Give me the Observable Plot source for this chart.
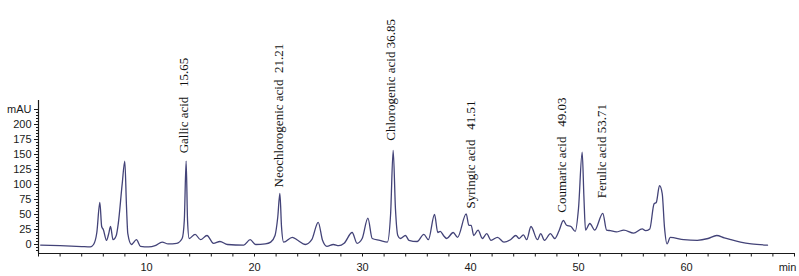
<!DOCTYPE html>
<html><head><meta charset="utf-8">
<script src="https://cdn.jsdelivr.net/npm/d3@7"></script>
<script src="https://cdn.jsdelivr.net/npm/@observablehq/plot@0.6"></script>
<style>body{margin:0;background:#fff;} #chart svg{display:block}</style>
</head><body><div id="chart"></div>
<script>
// Retention time (min) and absorbance (mAU)
const time = [0.2, 2, 4, 4.8, 5.1, 5.4, 5.68, 5.85, 6.0, 6.3, 6.5, 6.67, 6.9, 7.2, 7.38, 7.75, 7.99, 8.15, 8.27, 8.6,
  9.07, 9.44, 10.2, 10.8, 11.45, 12.0, 12.8, 13.3, 13.5, 13.67, 13.8, 13.95, 14.5, 15.0, 15.6, 16.2, 16.8, 17.5, 19.0, 19.6,
  20.1, 21.0, 21.5, 21.9, 22.15, 22.35, 22.5, 22.7, 23.5, 24.0, 24.7, 25.3, 25.9, 26.3, 26.7, 27.3, 27.8, 28.3, 29.04, 29.5,
  29.97, 30.5, 30.9, 31.6, 32.3, 32.6, 32.84, 33.05, 33.27, 33.5, 33.98, 34.3, 35.06, 35.68, 36.1, 36.67, 36.97, 37.2, 37.5, 37.8,
  38.4, 38.8, 39.6, 39.85, 40.06, 40.3, 40.7, 41.1, 41.5, 41.9, 42.5, 43.1, 43.7, 44.2, 44.5, 44.9, 45.2, 45.6, 46.2, 46.5,
  46.85, 47.4, 47.8, 48.2, 48.6, 48.9, 49.3, 49.7, 50.0, 50.34, 50.5, 50.65, 51.05, 51.5, 52.25, 52.6, 52.96, 53.5, 54.2, 55.1,
  55.9, 56.2, 56.6, 57.0, 57.2, 57.5, 57.75, 57.96, 58.2, 58.5, 59.75, 61.0, 62.0, 62.8, 63.5, 64.1, 65.0, 66.0, 67.5];
const mAU = [-1, -2, -3.5, -4, 0, 20, 70, 30, 25, 7, 18, 30, 8, 15, 34, 101, 139, 62, 18, 0,
  8, -3, -4, -2, 4, 1, 2, 10, 40, 139, 40, 10, 17, 8, 15, 2, 5, 0, -1, 8,
  0, 1, 4, 15, 45, 85, 30, 4, 12, 7, 0, 8, 37, 7, -3, 0, -2, 2, 20, 2,
  10, 44, 10, 7, 4, 50, 157, 60, 15, 10, 15, 7, 5, 17, 8, 50, 20, 22, 15, 10,
  20, 12, 51, 32, 32, 15, 24, 10, 18, 7, 12, 4, 8, 15, 10, 16, 8, 30, 8, 18,
  7, 18, 10, 23, 40, 32, 30, 22, 60, 154, 80, 24, 35, 24, 52, 24, 23, 21, 24, 19,
  26, 23, 26, 68, 70, 98, 85, 29, 1, 12, 8, 7, 10, 15, 11, 8, 4, 1, -1];

// Peak annotations
const compounds = ["Gallic acid", "Neochlorogenic acid", "Chlorogenic acid", "Syringic acid", "Coumaric acid", "Ferulic acid"];
const retention = ["15.65", "21.21", "36.85", "41.51", "49.03", "53.71"];
const gaps = [3, 2, 1, 3, 3, 1];
const labelTime = [13.43, 22.22, 32.59, 40.0, 48.49, 52.19];
const labelMAU = [152, 95, 173, 60, 53, 77];

// Axis ticks
const xTicks = d3.range(0, 71, 2);
const xLabels = [10, 20, 30, 40, 50, 60];
const xUnit = "min";
const yMinor = d3.range(-10, 226, 5);
const yMajor = [0, 25, 50, 75, 100, 125, 150, 175, 200, 225];
const yUnit = "mAU";

const data = time.map((t, i) => ({t, v: mAU[i]}));
const labels = compounds.map((c, i) => ({
  t: labelTime[i], v: labelMAU[i],
  text: c + "\u00a0".repeat(gaps[i]) + retention[i]
}));

const axisColor = "#1a1a1a";
const plot = Plot.plot({
  width: 799, height: 276,
  marginLeft: 38, marginRight: 5, marginTop: 100, marginBottom: 23,
  x: {domain: [0, 70], axis: null, label: null},
  y: {domain: [-15, 240], axis: null, label: null},
  style: {background: "#fff", fontFamily: "'Liberation Sans', Arial, sans-serif", fontSize: "11px", color: axisColor},
  marks: [
    Plot.axisX(xTicks, {anchor: "bottom", label: null, tickSize: 3.5, tickPadding: 6, stroke: axisColor, fill: axisColor, fontSize: 11,
      tickFormat: d => xLabels.includes(d) ? String(d) : ""}),
    Plot.text([xUnit], {x: 70, y: -15, frameAnchor: "top", dy: 9.5, dx: -7, lineAnchor: "top", fill: axisColor, fontSize: 11}),
    Plot.axisY(yMinor, {anchor: "left", label: null, tickSize: 2, tickFormat: () => "", stroke: axisColor}),
    Plot.axisY(yMajor, {anchor: "left", label: null, tickSize: 4, tickPadding: 3, stroke: axisColor, fill: axisColor, fontSize: 11,
      tickFormat: d => d === 225 ? yUnit : String(d)}),
    Plot.ruleY([-15], {stroke: axisColor, strokeWidth: 1.2}),
    Plot.ruleX([0], {stroke: axisColor, strokeWidth: 1.2}),
    Plot.line(data, {x: "t", y: "v", stroke: "#434378", strokeWidth: 1.3, curve: "monotone-x"}),
    Plot.text(labels, {x: "t", y: "v", text: "text", rotate: -90, textAnchor: "start", lineAnchor: "middle",
      fontFamily: "'Liberation Serif', 'Times New Roman', serif", fontSize: 13, fill: "#111"})
  ]
});
document.getElementById("chart").append(plot);
</script>
</body></html>
